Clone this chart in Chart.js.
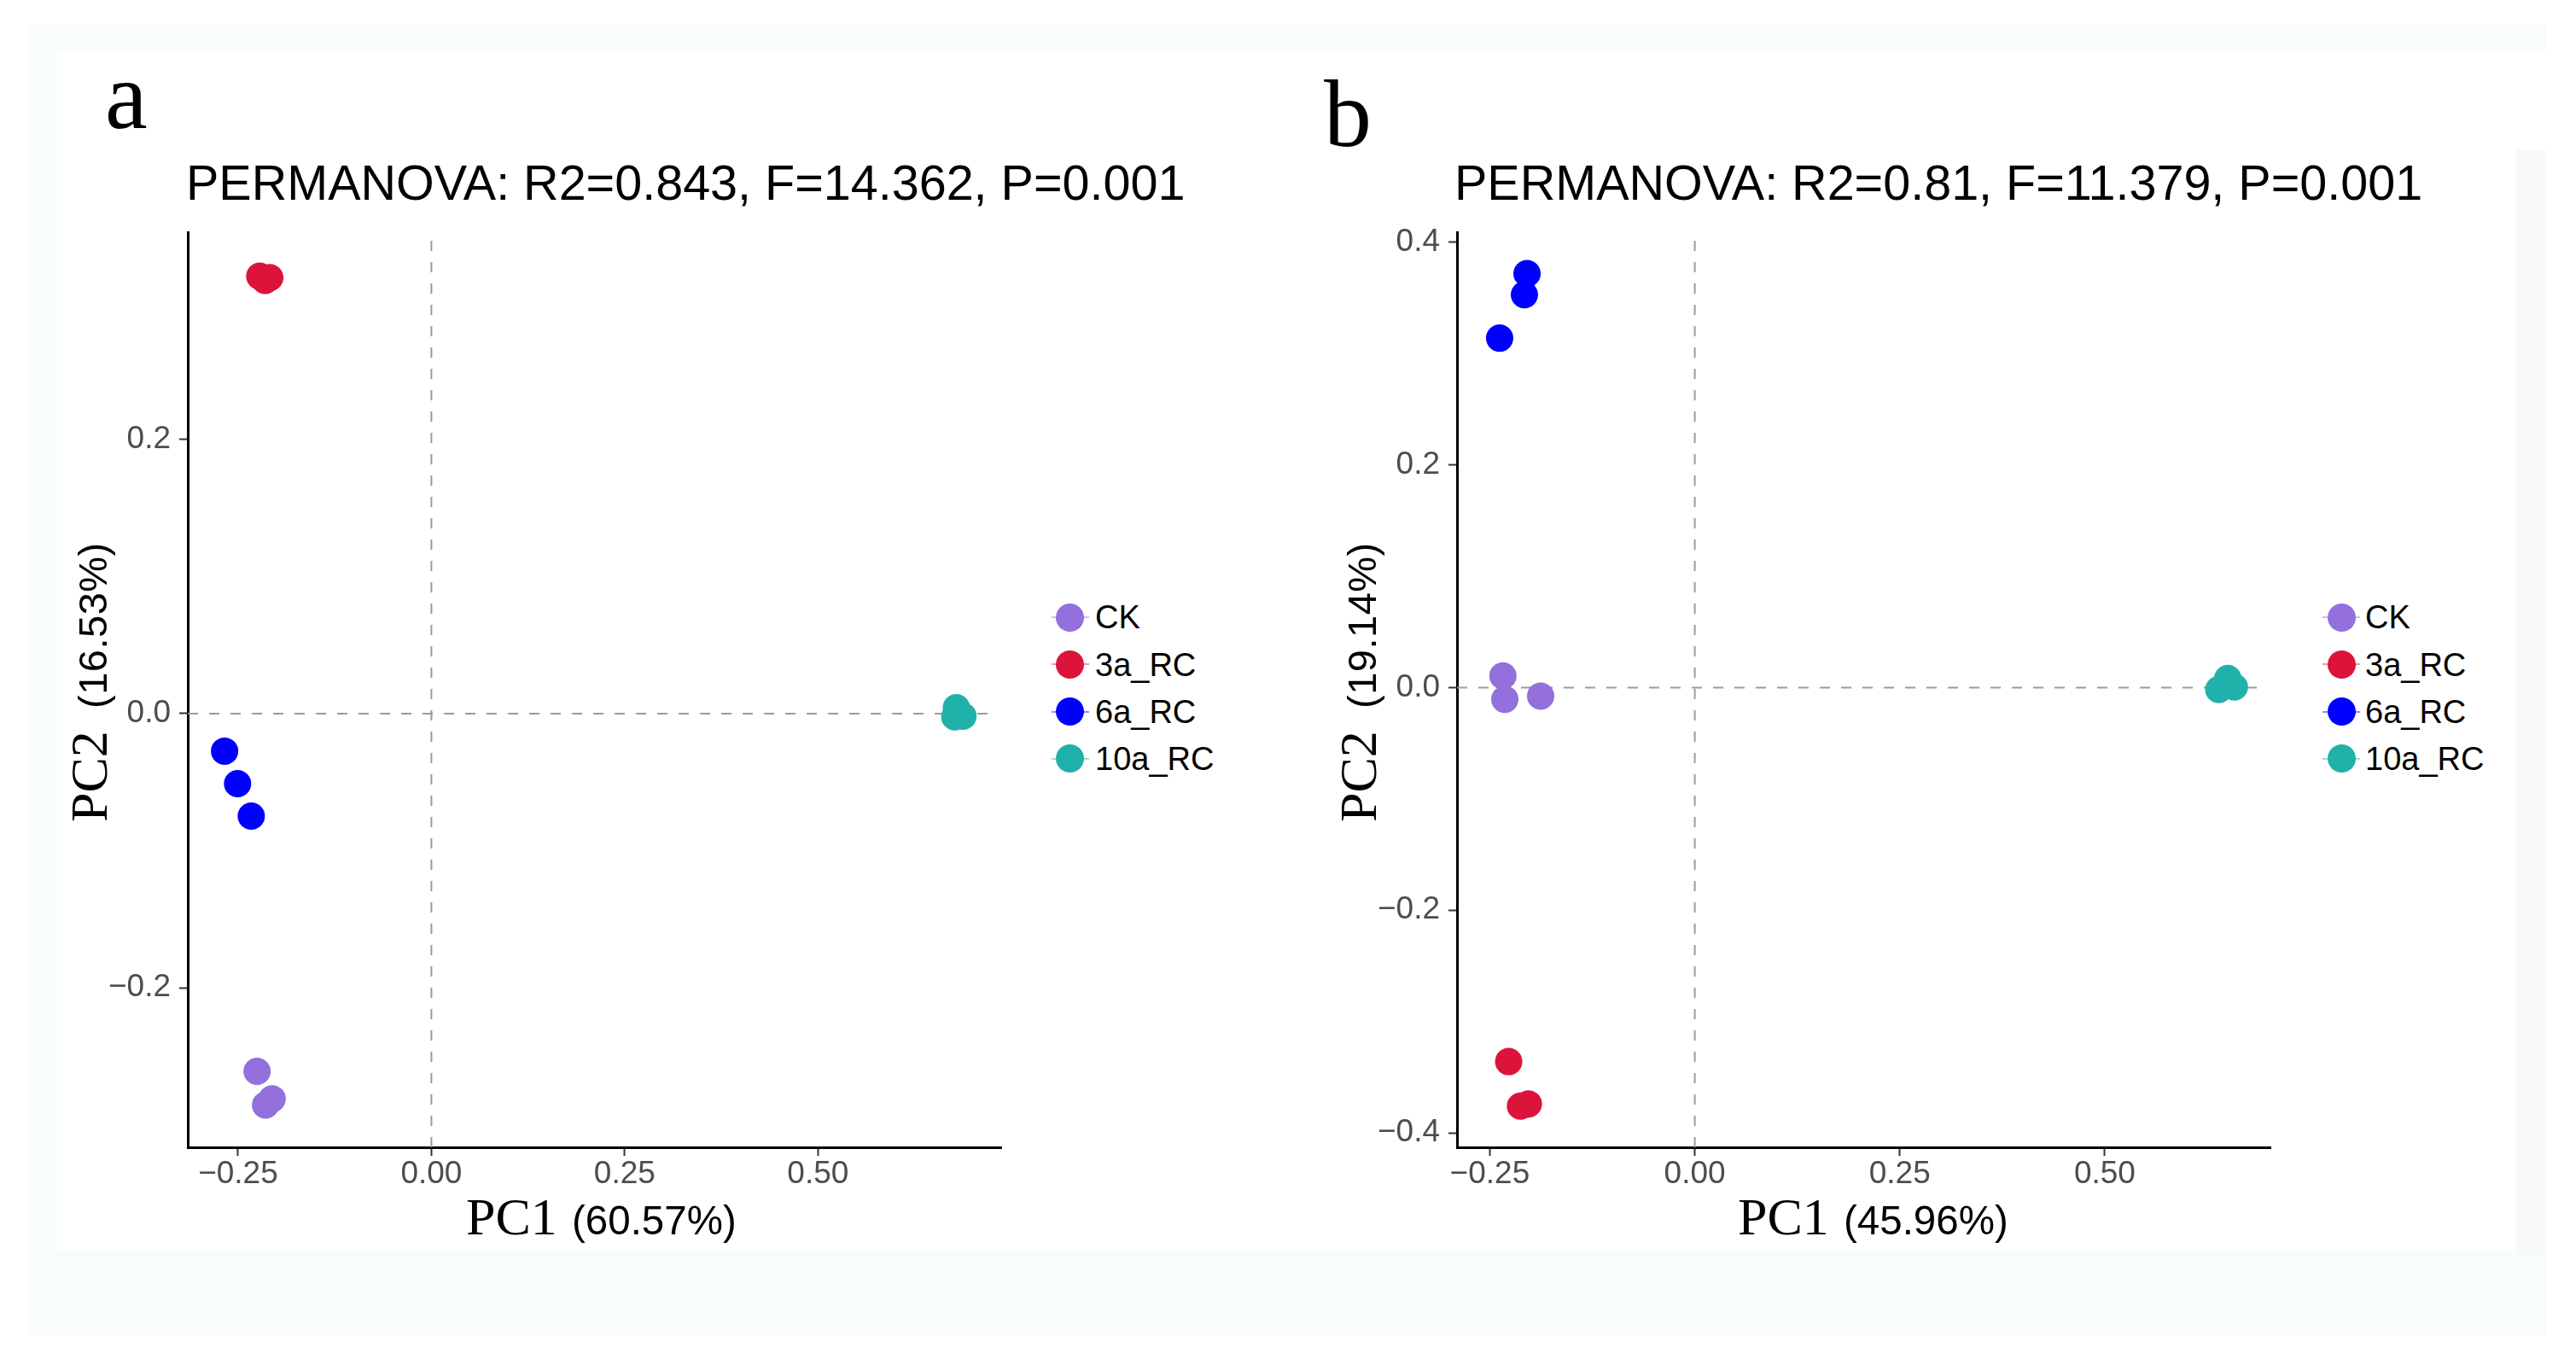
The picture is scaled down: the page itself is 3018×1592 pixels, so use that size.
<!DOCTYPE html>
<html>
<head>
<meta charset="utf-8">
<script src="https://cdn.jsdelivr.net/npm/chart.js@4.4.1/dist/chart.umd.min.js"></script>
<style>
html,body{margin:0;padding:0;background:#fff;width:3018px;height:1592px;overflow:hidden;position:relative;}
.abs{position:absolute;}
.t{position:absolute;white-space:nowrap;line-height:1;color:#000;margin:0;padding:0;}
.sans{font-family:'Liberation Sans',Arial,Helvetica,sans-serif;}
.serif{font-family:'Liberation Serif','Times New Roman',Times,serif;}
</style>
</head>
<body>
<div class="abs" style="left:33px;top:28px;width:2950px;height:1537px;background:#f9fcfc"></div>
<div class="abs" style="left:67px;top:60px;width:2916px;height:1404px;background:#ffffff"></div>
<div class="abs" style="left:2948px;top:175px;width:35px;height:1294px;background:#f9f9f9"></div>
<script>
// ---------- data ----------
const groups = ['CK', '3a_RC', '6a_RC', '10a_RC'];
const groupColors = ['#9370DB', '#DC143C', '#0000FF', '#20B2AA'];

// Panel a (PC1 60.57%, PC2 16.53%)
const a_CK_x   = [-0.2255, -0.206, -0.2145];
const a_CK_y   = [-0.261, -0.281, -0.2856];
const a_3a_x   = [-0.222, -0.215, -0.209];
const a_3a_y   = [0.319, 0.316, 0.318];
const a_6a_x   = [-0.2675, -0.2507, -0.233];
const a_6a_y   = [-0.0274, -0.0511, -0.0748];
const a_10a_x  = [0.679, 0.6875, 0.677];
const a_10a_y  = [0.0043, -0.0019, -0.0024];

// Panel b (PC1 45.96%, PC2 19.14%)
const b_CK_x   = [-0.234, -0.2317, -0.188];
const b_CK_y   = [0.0105, -0.0105, -0.0076];
const b_3a_x   = [-0.227, -0.2126, -0.203];
const b_3a_y   = [-0.336, -0.376, -0.374];
const b_6a_x   = [-0.2046, -0.2078, -0.238];
const b_6a_y   = [0.372, 0.353, 0.314];
const b_10a_x  = [0.650, 0.639, 0.658];
const b_10a_y  = [0.0082, -0.0017, 0.0006];

// ticks
const xTicks = [-0.25, 0, 0.25, 0.5];
const xTickLabels = ['\u22120.25', '0.00', '0.25', '0.50'];
const a_yTicks = [-0.2, 0, 0.2];
const a_yTickLabels = ['\u22120.2', '0.0', '0.2'];
const b_yTicks = [-0.4, -0.2, 0, 0.2, 0.4];
const b_yTickLabels = ['\u22120.4', '\u22120.2', '0.0', '0.2', '0.4'];

// axis limits
const a_xRange = [-0.3151, 0.737];
const a_yRange = [-0.3164, 0.351];
const b_xRange = [-0.290, 0.702];
const b_yRange = [-0.413, 0.409];

// texts
const panelLetters = ['a', 'b'];
const panelTitles = ['PERMANOVA: R2=0.843, F=14.362, P=0.001', 'PERMANOVA: R2=0.81, F=11.379, P=0.001'];
const xAxisPct = ['(60.57%)', '(45.96%)'];
const yAxisPct = ['(16.53%)', '(19.14%)'];

// ---------- helpers ----------
const SANS = "'Liberation Sans', Arial, Helvetica, sans-serif";

function addText(txt, cls, left, top, size, extra) {
  const s = document.createElement('div');
  s.className = 't ' + cls;
  s.textContent = txt;
  s.style.left = left + 'px';
  s.style.top = top + 'px';
  s.style.fontSize = size + 'px';
  if (extra) s.style.cssText += extra;
  document.body.appendChild(s);
  return s;
}

const zeroLines = {
  id: 'zeroLines',
  beforeDatasetsDraw(chart) {
    const {ctx, chartArea: a, scales: {x, y}} = chart;
    const px = x.getPixelForValue(0), py = y.getPixelForValue(0);
    ctx.save();
    ctx.strokeStyle = '#9a9a9a';
    ctx.lineWidth = 2;
    ctx.setLineDash([12, 13]);
    ctx.beginPath();
    ctx.moveTo(px, a.bottom); ctx.lineTo(px, a.top);
    ctx.moveTo(a.left, py); ctx.lineTo(a.right - 8, py);
    ctx.stroke();
    ctx.restore();
  }
};

function buildPanel(p) {
  const cv = document.createElement('canvas');
  cv.width = p.cw; cv.height = p.ch;
  cv.style.cssText = `position:absolute;left:${p.cx}px;top:${p.cy}px;width:${p.cw}px;height:${p.ch}px;`;
  document.body.appendChild(cv);
  const datasets = groups.map((g, i) => ({
    label: g,
    data: p.xs[i].map((x, j) => ({x: x, y: p.ys[i][j]})),
    backgroundColor: groupColors[i],
    borderColor: groupColors[i],
    borderWidth: 0,
    pointRadius: 16,
    pointHoverRadius: 16
  }));
  const tickFont = {family: SANS, size: 37};
  new Chart(cv, {
    type: 'scatter',
    data: {datasets},
    options: {
      responsive: false,
      animation: false,
      devicePixelRatio: 1,
      events: [],
      layout: {padding: {left: 0, top: p.padTop, right: p.padRight, bottom: p.padBottom}},
      plugins: {legend: {display: false}, title: {display: false}, tooltip: {enabled: false}},
      scales: {
        x: {
          type: 'linear', min: p.xRange[0], max: p.xRange[1],
          afterBuildTicks: s => { s.ticks = xTicks.map(v => ({value: v})); },
          afterFit: s => { s.height = p.xAxisH; },
          ticks: {autoSkip: false, maxRotation: 0, padding: 0, color: '#4d4d4d', font: tickFont,
                  callback: (v, i) => xTickLabels[i]},
          grid: {display: true, drawOnChartArea: false, drawTicks: true, tickLength: 10, tickWidth: 2, tickColor: '#333'},
          border: {display: true, color: '#000', width: 3}
        },
        y: {
          type: 'linear', min: p.yRange[0], max: p.yRange[1],
          afterBuildTicks: s => { s.ticks = p.yTicks.map(v => ({value: v})); },
          afterFit: s => { s.width = p.yAxisW; },
          ticks: {autoSkip: false, padding: 10, color: '#4d4d4d', font: tickFont,
                  callback: (v, i) => p.yTickLabels[i]},
          grid: {display: true, drawOnChartArea: false, drawTicks: true, tickLength: 10, tickWidth: 2, tickColor: '#333'},
          border: {display: true, color: '#000', width: 3}
        }
      }
    },
    plugins: [zeroLines]
  });

  // panel letter & title
  addText(panelLetters[p.idx], 'serif', p.letterX, p.letterTop, 112);
  addText(panelTitles[p.idx], 'sans', p.titleX, 235 - 48.7, 57.5);

  // x-axis title: "PC1" (serif) + percentage (sans)
  addText('PC1', 'serif', p.xtX, 1446 - 52, 62);
  addText(xAxisPct[p.idx], 'sans', p.xtX + 124, 1446 - 40.2, 47.5);

  // y-axis title (rotated)
  const w = document.createElement('div');
  w.className = 'abs';
  w.style.cssText += `left:${p.ytBase - 60}px;top:963px;width:400px;height:80px;transform:rotate(-90deg);transform-origin:0 0;`;
  document.body.appendChild(w);
  const s1 = document.createElement('div');
  s1.className = 't serif'; s1.textContent = 'PC2';
  s1.style.cssText += 'left:0px;top:8px;font-size:62px;';
  w.appendChild(s1);
  const s2 = document.createElement('div');
  s2.className = 't sans'; s2.textContent = yAxisPct[p.idx];
  s2.style.cssText += 'left:133px;top:20.2px;font-size:47px;letter-spacing:0.5px;';
  w.appendChild(s2);

  // legend
  groups.forEach((g, i) => {
    const cy = 723 + i * 55.3;
    const ln = document.createElement('div');
    ln.className = 'abs';
    ln.style.cssText += `left:${p.legX - 22}px;top:${cy - 1}px;width:44px;height:2px;background:${groupColors[i]};opacity:0.45;`;
    document.body.appendChild(ln);
    const c = document.createElement('div');
    c.className = 'abs';
    c.style.cssText += `left:${p.legX - 16.5}px;top:${cy - 16.5}px;width:33px;height:33px;border-radius:50%;background:${groupColors[i]};`;
    document.body.appendChild(c);
    addText(g, 'sans', p.legTextX, cy - 18.6, 38);
  });
}

buildPanel({
  idx: 0, cx: 0, cy: 240, cw: 1200, ch: 1180,
  padTop: 25, padRight: 27, padBottom: 6, xAxisH: 70, yAxisW: 220,
  xRange: a_xRange, yRange: a_yRange, yTicks: a_yTicks, yTickLabels: a_yTickLabels,
  xs: [a_CK_x, a_3a_x, a_6a_x, a_10a_x], ys: [a_CK_y, a_3a_y, a_6a_y, a_10a_y],
  letterX: 123, letterTop: 56, titleX: 218, xtX: 546, ytBase: 125,
  legX: 1253.5, legTextX: 1283
});
buildPanel({
  idx: 1, cx: 1500, cy: 240, cw: 1200, ch: 1180,
  padTop: 25, padRight: 40, padBottom: 6, xAxisH: 70, yAxisW: 207,
  xRange: b_xRange, yRange: b_yRange, yTicks: b_yTicks, yTickLabels: b_yTickLabels,
  xs: [b_CK_x, b_3a_x, b_6a_x, b_10a_x], ys: [b_CK_y, b_3a_y, b_6a_y, b_10a_y],
  letterX: 1551, letterTop: 77, titleX: 1704, xtX: 2036, ytBase: 1612,
  legX: 2743, legTextX: 2771
});
</script>
</body>
</html>
